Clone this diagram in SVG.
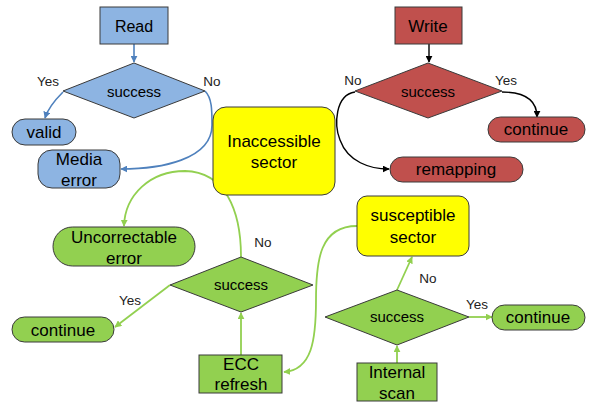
<svg xmlns="http://www.w3.org/2000/svg" width="591" height="402" viewBox="0 0 591 402">
<style>
text{font-family:"Liberation Sans",Arial,sans-serif;font-size:17px;fill:#000;text-anchor:middle}
.s{font-size:15px}
.l{font-size:13.5px;fill:#222}
.sh{stroke:#3a3a3a;stroke-width:1}
.blue{fill:#8DB4E2}
.red{fill:#C0504D}
.green{fill:#92D050}
.yel{fill:#FFFF00}
.cb{fill:none;stroke:#4F81BD;stroke-width:1.6}
.ck{fill:none;stroke:#000;stroke-width:1.4}
.cg{fill:none;stroke:#92D050;stroke-width:1.8}
</style>
<defs>
<marker id="ab" viewBox="0 0 10 10" refX="9" refY="5" markerWidth="7" markerHeight="7" markerUnits="userSpaceOnUse" orient="auto"><path d="M0,0 L10,5 L0,10 z" fill="#4F81BD"/></marker>
<marker id="ak" viewBox="0 0 10 10" refX="9" refY="5" markerWidth="7" markerHeight="7" markerUnits="userSpaceOnUse" orient="auto"><path d="M0,0 L10,5 L0,10 z" fill="#000"/></marker>
<marker id="ag" viewBox="0 0 10 10" refX="9" refY="5" markerWidth="7" markerHeight="7" markerUnits="userSpaceOnUse" orient="auto"><path d="M0,0 L10,5 L0,10 z" fill="#92D050"/></marker>
</defs>
<rect width="591" height="402" fill="#fff"/>

<g id="connectors">
<path class="cb" d="M134,44 L134,62" marker-end="url(#ab)"/>
<path class="cb" d="M63,92 C55,100 48,108 45,118" marker-end="url(#ab)"/>
<path class="cb" d="M205,91 C212,98 212,110 212,125 C212,160 160,169 121,169" marker-end="url(#ab)"/>
<path class="ck" d="M429,44 L429,62" marker-end="url(#ak)"/>
<path class="ck" d="M502,92 C525,92 537,100 537,117" marker-end="url(#ak)"/>
<path class="ck" d="M355,92 C335,95 334,125 340,140 C348,162 370,169 389,169" marker-end="url(#ak)"/>
<path class="cg" d="M241,257 C241,210 225,172 185,171 C150,171 125,195 124,226" marker-end="url(#ag)"/>
<path class="cg" d="M170,285 L115,327" marker-end="url(#ag)"/>
<path class="cg" d="M241,355 L241,313" marker-end="url(#ag)"/>
<path class="cg" d="M357,226 C320,226 316,260 316,300 C316,340 312,370 284,372" marker-end="url(#ag)"/>
<path class="cg" d="M397,290 L412,257" marker-end="url(#ag)"/>
<path class="cg" d="M469,317 L492,317" marker-end="url(#ag)"/>
<path class="cg" d="M397,363 L397,346" marker-end="url(#ag)"/>
</g>

<g id="labels">
<text class="l" x="48" y="86">Yes</text>
<text class="l" x="212" y="86">No</text>
<text class="l" x="353" y="85">No</text>
<text class="l" x="506" y="85">Yes</text>
<text class="l" x="263" y="247">No</text>
<text class="l" x="130" y="305">Yes</text>
<text class="l" x="428" y="283">No</text>
<text class="l" x="477" y="309">Yes</text>
</g>

<g id="read"><rect class="sh blue" x="100" y="7" width="68" height="37"/><text x="134" y="32" style="font-size:16px">Read</text></g>
<g id="read-success"><path class="sh blue" d="M134,63 L205,91 L134,118 L63,91 z"/><text class="s" x="134" y="97">success</text></g>
<g id="valid"><rect class="sh blue" x="12" y="119" width="64" height="26" rx="13"/><text x="44" y="138">valid</text></g>
<g id="media-error"><rect class="sh blue" x="38" y="150" width="82" height="38" rx="14"/><text x="79" y="165">Media</text><text x="79" y="186">error</text></g>

<g id="inaccessible"><rect class="sh yel" x="213" y="107" width="122" height="88" rx="13"/><text x="274" y="147">Inaccessible</text><text x="274" y="168">sector</text></g>

<g id="write"><rect class="sh red" x="395" y="7" width="67" height="37"/><text x="428" y="32">Write</text></g>
<g id="write-success"><path class="sh red" d="M428,63 L502,91 L428,118 L355,91 z"/><text class="s" x="428" y="97">success</text></g>
<g id="write-continue"><rect class="sh red" x="488" y="117" width="97" height="25" rx="12.5"/><text x="536" y="135">continue</text></g>
<g id="remapping"><rect class="sh red" x="390" y="157" width="133" height="25" rx="12.5"/><text x="456" y="175">remapping</text></g>

<g id="uncorrectable"><rect class="sh green" x="53" y="227" width="142" height="39" rx="19.5"/><text x="124" y="243">Uncorrectable</text><text x="124" y="264">error</text></g>
<g id="ecc-success"><path class="sh green" d="M241,257 L313,285 L241,312 L170,285 z"/><text class="s" x="241" y="290">success</text></g>
<g id="ecc-continue"><rect class="sh green" x="12" y="317" width="102" height="25" rx="12.5"/><text x="63" y="336">continue</text></g>
<g id="ecc-refresh"><rect class="sh green" x="199" y="355" width="83" height="38"/><text x="241" y="370">ECC</text><text x="241" y="390">refresh</text></g>

<g id="susceptible"><rect class="sh yel" x="357" y="196" width="112" height="60" rx="10"/><text x="413" y="221">susceptible</text><text x="413" y="243">sector</text></g>
<g id="scan-success"><path class="sh green" d="M397,290 L469,317 L397,345 L325,317 z"/><text class="s" x="397" y="322">success</text></g>
<g id="scan-continue"><rect class="sh green" x="492" y="305" width="93" height="25" rx="12.5"/><text x="538" y="323">continue</text></g>
<g id="internal-scan"><rect class="sh green" x="357" y="363" width="80" height="38"/><text x="397" y="378">Internal</text><text x="397" y="399">scan</text></g>
</svg>
